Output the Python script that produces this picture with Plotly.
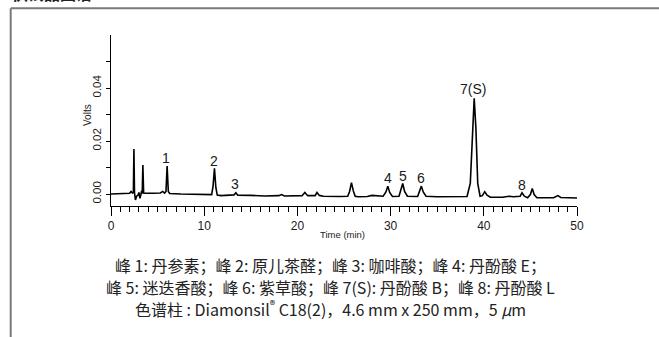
import plotly.graph_objects as go

# Chromatogram points (time in min, signal in Volts)
time_min = [0.0, 1.5, 2.0, 2.15, 2.3, 2.40, 2.46, 2.52, 2.62, 2.75, 2.9, 3.0, 3.1, 3.2, 3.28, 3.35,
            3.42, 3.50, 3.7, 4.5, 5.3, 5.55, 5.75, 5.9, 6.02, 6.15, 6.3, 7.5, 9.5, 10.8, 10.95,
            11.1, 11.25, 11.4, 11.8, 12.5, 13.2, 13.4, 13.6, 15.0, 16.5, 18.0, 18.3, 18.6, 20.5,
            20.8, 21.1, 21.9, 22.1, 22.35, 22.8, 24.5, 25.4, 25.6, 25.8, 26.0, 26.2, 26.5, 27.5,
            28.0, 28.6, 29.2, 29.5, 29.7, 29.9, 30.2, 30.9, 31.1, 31.3, 31.5, 31.8, 32.9, 33.1,
            33.3, 33.5, 33.8, 35.0, 37.0, 38.2, 38.55, 38.8, 38.97, 39.15, 39.35, 39.6, 39.85,
            40.1, 40.35, 40.7, 42.0, 42.7, 43.2, 43.9, 44.1, 44.35, 44.7, 45.0, 45.2, 45.4, 45.7,
            47.5, 47.95, 48.25, 49.0, 50.0]
volts = [0.0000, 0.0001, 0.0003, 0.0010, 0.0004, 0.0006, 0.0170, 0.0005, -0.0022, -0.0008,
         -0.0004, 0.0006, -0.0016, -0.0004, 0.0012, 0.0002, 0.0110, 0.0004, 0.0003, 0.0003,
         0.0004, 0.0010, 0.0004, 0.0010, 0.0106, 0.0010, 0.0002, 0.0000, -0.0002, -0.0002,
         0.0030, 0.0097, 0.0025, -0.0004, -0.0006, -0.0004, -0.0003, 0.0005, -0.0004, -0.0005,
         -0.0007, -0.0006, -0.0002, -0.0007, -0.0006, 0.0006, -0.0006, -0.0006, 0.0006, -0.0005,
         -0.0008, -0.0009, -0.0008, 0.0010, 0.0043, 0.0012, -0.0008, -0.0010, -0.0009, -0.0005,
         -0.0006, -0.0008, 0.0008, 0.0030, 0.0006, -0.0009, -0.0008, 0.0012, 0.0040, 0.0010,
         -0.0008, -0.0009, 0.0010, 0.0030, 0.0008, -0.0008, -0.0010, -0.0010, -0.0009, 0.0040,
         0.0250, 0.0361, 0.0250, 0.0040, -0.0008, -0.0006, 0.0009, -0.0004, -0.0012, -0.0012,
         -0.0008, -0.0010, -0.0008, 0.0005, -0.0008, -0.0014, -0.0002, 0.0021, -0.0002, -0.0014,
         -0.0014, -0.0006, -0.0013, -0.0015, -0.0015]

# Peak labels
peak_labels = ["1", "2", "3", "4", "5", "6", "7(S)", "8"]
peak_label_x = [5.93, 11.0, 13.35, 29.7, 31.3, 33.3, 38.85, 44.1]
peak_label_y = [0.0135, 0.0124, 0.0037, 0.0060, 0.0069, 0.0060, 0.0396, 0.0034]

x_tick_vals = [0, 10, 20, 30, 40, 50]
x_tick_text = ["0", "10", "20", "30", "40", "50"]
y_tick_vals = [0.00, 0.01, 0.02, 0.03, 0.04, 0.05]
y_tick_text = ["0.00", " ", "0.02", " ", "0.04", " "]

caption_lines = [
    "峰 1: 丹参素；峰 2: 原儿茶醛；峰 3: 咖啡酸；峰 4: 丹酚酸 E；",
    "峰 5: 迷迭香酸；峰 6: 紫草酸；峰 7(S): 丹酚酸 B；峰 8: 丹酚酸 L",
    "色谱柱 : Diamonsil<sup>®</sup> C18(2)，4.6 mm x 250 mm，5 <i>μ</i>m",
]
heading = "供试品图谱"

W, H = 659, 337
L, R, T, B = 111, 82, 35, 131
PW, PH = W - L - R, H - T - B

def px(xp):
    return (xp - L) / PW

def py(yp):
    return (H - B - yp) / PH

NARROW = "Liberation Sans Narrow, Arial Narrow, Liberation Sans, Arial, sans-serif"
TXT = "#1a1a1a"

fig = go.Figure()
fig.add_trace(go.Scatter(x=time_min, y=volts, mode="lines",
                         line=dict(color="black", width=1.6), hoverinfo="skip",
                         showlegend=False))

for t, xx, yy in zip(peak_labels, peak_label_x, peak_label_y):
    fig.add_annotation(x=xx, y=yy, text=t, showarrow=False, xref="x", yref="y",
                       font=dict(family=NARROW, size=14, color=TXT),
                       xanchor="center", yanchor="middle")

# axis titles
fig.add_annotation(x=24.8, y=py(234), xref="x", yref="paper", text="Time (min)",
                   showarrow=False, font=dict(family="Liberation Sans, Arial", size=9.5, color=TXT),
                   xanchor="center", yanchor="middle")
fig.add_annotation(x=px(87.5), y=py(115.5), xref="paper", yref="paper", text="Volts",
                   showarrow=False, textangle=-90,
                   font=dict(family="Liberation Sans, Arial", size=10, color=TXT),
                   xanchor="center", yanchor="middle")

# caption lines
for line, yc in zip(caption_lines, [265, 287, 308]):
    fig.add_annotation(x=px(330), y=py(yc), xref="paper", yref="paper", text=line,
                       showarrow=False,
                       font=dict(family="Noto Sans CJK SC, sans-serif",
                                 size=16, color="#222222"),
                       xanchor="center", yanchor="middle")

# cut-off heading at the very top
fig.add_annotation(x=px(10), y=py(7), xref="paper", yref="paper", text="<b>" + heading + "</b>",
                   showarrow=False, font=dict(family="Noto Sans CJK SC", size=16, color="#222222"),
                   xanchor="left", yanchor="bottom")

# outer frame (top and left edges)
frame_color = "#7a7a7a"
fig.add_shape(type="line", xref="paper", yref="paper", x0=px(10.7), x1=px(W + 5),
              y0=py(8.3), y1=py(8.3), line=dict(color=frame_color, width=2))
fig.add_shape(type="line", xref="paper", yref="paper", x0=px(10.7), x1=px(10.7),
              y0=py(8.3), y1=py(H + 5), line=dict(color=frame_color, width=2))

fig.update_layout(
    width=W, height=H, autosize=False,
    margin=dict(l=L, r=R, t=T, b=B, pad=0),
    paper_bgcolor="white", plot_bgcolor="white",
    showlegend=False,
    xaxis=dict(range=[0, 50], tickvals=x_tick_vals, ticktext=x_tick_text,
               ticks="outside", ticklen=9, tickwidth=1, tickcolor="black",
               showline=True, linecolor="black", linewidth=1,
               showgrid=False, zeroline=False,
               minor=dict(dtick=1, ticks="outside", ticklen=5, tickwidth=1,
                          tickcolor="black", showgrid=False),
               tickfont=dict(family=NARROW, size=12, color=TXT)),
    yaxis=dict(range=[-0.0045, 0.06], tickvals=y_tick_vals, ticktext=y_tick_text,
               ticks="outside", ticklen=4, tickwidth=1, tickcolor="black",
               showline=True, linecolor="black", linewidth=1,
               showgrid=False, zeroline=False, tickangle=-90,
               tickfont=dict(family="Liberation Sans, Arial", size=11.5, color=TXT)),
)

fig.write_html("out.html", config={"displayModeBar": False},
               post_script="document.body.style.margin='0';document.body.style.padding='0';")
